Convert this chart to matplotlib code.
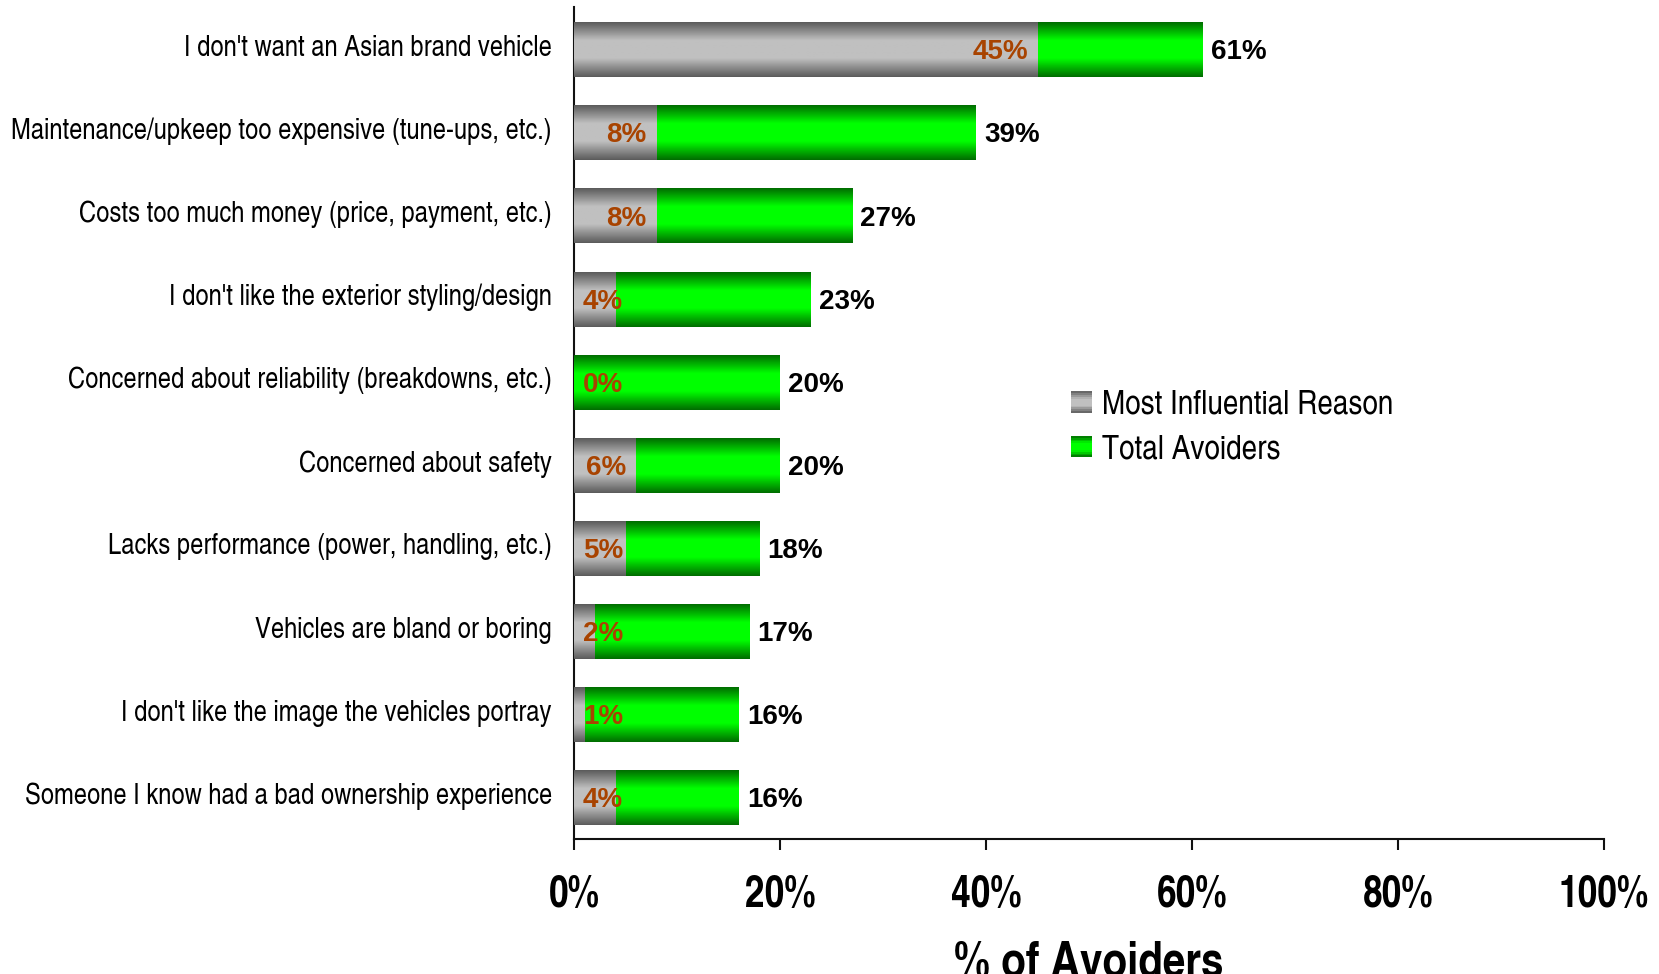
import matplotlib
matplotlib.use('Agg')
import matplotlib.pyplot as plt
import numpy as np
from matplotlib.colors import LinearSegmentedColormap
from matplotlib.legend_handler import HandlerBase
from matplotlib.patches import Rectangle
from matplotlib.transforms import ScaledTranslation

NARROW = ['TeX Gyre Heros Cn', 'DejaVu Sans']
WIDE = ['Liberation Sans', 'DejaVu Sans']
plt.rcParams['font.family'] = NARROW

reasons = [
    "I don't want an Asian brand vehicle",
    "Maintenance/upkeep too expensive (tune-ups, etc.)",
    "Costs too much money (price, payment, etc.)",
    "I don't like the exterior styling/design",
    "Concerned about reliability (breakdowns, etc.)",
    "Concerned about safety",
    "Lacks performance (power, handling, etc.)",
    "Vehicles are bland or boring",
    "I don't like the image the vehicles portray",
    "Someone I know had a bad ownership experience",
]
most_influential = [45, 8, 8, 4, 0, 6, 5, 2, 1, 4]
total_avoiders = [61, 39, 27, 23, 20, 20, 18, 17, 16, 16]
xticks = [0, 20, 40, 60, 80, 100]

# dark edge -> light band -> dark edge, like a shaded cylinder
gray_cmap = LinearSegmentedColormap.from_list(
    'gray_tube', [(0, '#5c5c5c'), (0.33, '#c0c0c0'), (0.66, '#c0c0c0'), (1, '#5c5c5c')])
green_cmap = LinearSegmentedColormap.from_list(
    'green_tube', [(0, '#006e00'), (0.33, '#00ff00'), (0.66, '#00ff00'), (1, '#006e00')])
grad = np.linspace(0, 1, 64).reshape(-1, 1)


def shade_bars(ax, bars, cmap, z):
    for b in bars:
        x0, y0 = b.get_x(), b.get_y()
        w, h = b.get_width(), b.get_height()
        if w <= 0:
            continue
        ax.imshow(grad, cmap=cmap, aspect='auto', interpolation='bilinear',
                  extent=(x0, x0 + w, y0 + h, y0), zorder=z)


class GradientHandler(HandlerBase):
    def __init__(self, cmap):
        super().__init__()
        self.cmap = cmap

    def create_artists(self, legend, orig_handle, xdescent, ydescent,
                       width, height, fontsize, trans):
        n = 12
        side = height * 0.88
        x = -xdescent
        y0 = -ydescent + (height - side) / 2
        arts = []
        for k in range(n):
            arts.append(Rectangle((x, y0 + side * k / n), side, side / n + 0.3,
                                  facecolor=self.cmap((k + 0.5) / n), edgecolor='none',
                                  transform=trans))
        return arts


fig = plt.figure(figsize=(16.59, 9.74), dpi=100)
ax = fig.add_axes([0.346, 0.1386, 0.6208, 0.8542])

y = np.arange(len(reasons))
bar_h = 0.65
green_bars = ax.barh(y, total_avoiders, height=bar_h, color='#00cc00', zorder=2,
                     label='Total Avoiders')
gray_bars = ax.barh(y, most_influential, height=bar_h, color='#999999', zorder=4,
                    label='Most Influential Reason')
shade_bars(ax, green_bars, green_cmap, 3)
shade_bars(ax, gray_bars, gray_cmap, 5)

ax.set_xlim(0, 100)
ax.set_ylim(9.49, -0.52)

ax.set_yticks(y)
ax.set_yticklabels(reasons, fontsize=20.9)
ax.tick_params(axis='y', length=0, pad=16)
# category names sit a little above the bar centre
lift = ScaledTranslation(0, 0.05, fig.dpi_scale_trans)
for lab in ax.get_yticklabels():
    lab.set_transform(lab.get_transform() + lift)

ax.set_xticks(xticks)
ax.set_xticklabels([f'{t}%' for t in xticks], fontsize=31, fontweight='bold')
ax.tick_params(axis='x', length=8, width=1.5, direction='out', pad=18, color='#111111')
ax.set_xlabel('% of Avoiders', fontsize=35.5, fontweight='bold', labelpad=18)

for s in ['top', 'right']:
    ax.spines[s].set_visible(False)
for s in ['left', 'bottom']:
    ax.spines[s].set_linewidth(1.5)
    ax.spines[s].set_color('#111111')

# total labels just past the end of the green bar
for i, v in enumerate(total_avoiders):
    ax.annotate(f'{v}%', xy=(v, i), xytext=(6, -1.5), textcoords='offset points',
                ha='left', va='center', fontsize=20, fontweight='bold',
                family=WIDE, color='black', zorder=7)

# most influential labels sit inside the end of the gray bar, pushed right if too short
inner = []
for i, v in enumerate(most_influential):
    t = ax.annotate(f'{v}%', xy=(v, i), xytext=(-7, -1.5), textcoords='offset points',
                    ha='right', va='center', fontsize=20, fontweight='bold',
                    family=WIDE, color='#a84300', zorder=7)
    inner.append(t)
fig.canvas.draw()
renderer = fig.canvas.get_renderer()
ax_left = ax.get_window_extent(renderer).x0
for i, t in enumerate(inner):
    if t.get_window_extent(renderer).x0 < ax_left + 9:
        t.xy = (0, i)
        t.set_position((6.5, -1.5))
        t.set_ha('left')

handles = [gray_bars, green_bars]
leg = ax.legend(handles, ['Most Influential Reason', 'Total Avoiders'],
                handler_map={gray_bars: GradientHandler(gray_cmap),
                             green_bars: GradientHandler(green_cmap)},
                loc='upper left', bbox_to_anchor=(0.4525, 0.5765), frameon=False,
                fontsize=24.5, handlelength=0.62, handleheight=0.7,
                handletextpad=0.31, labelspacing=0.40)

fig.savefig('out.png', dpi=100)
